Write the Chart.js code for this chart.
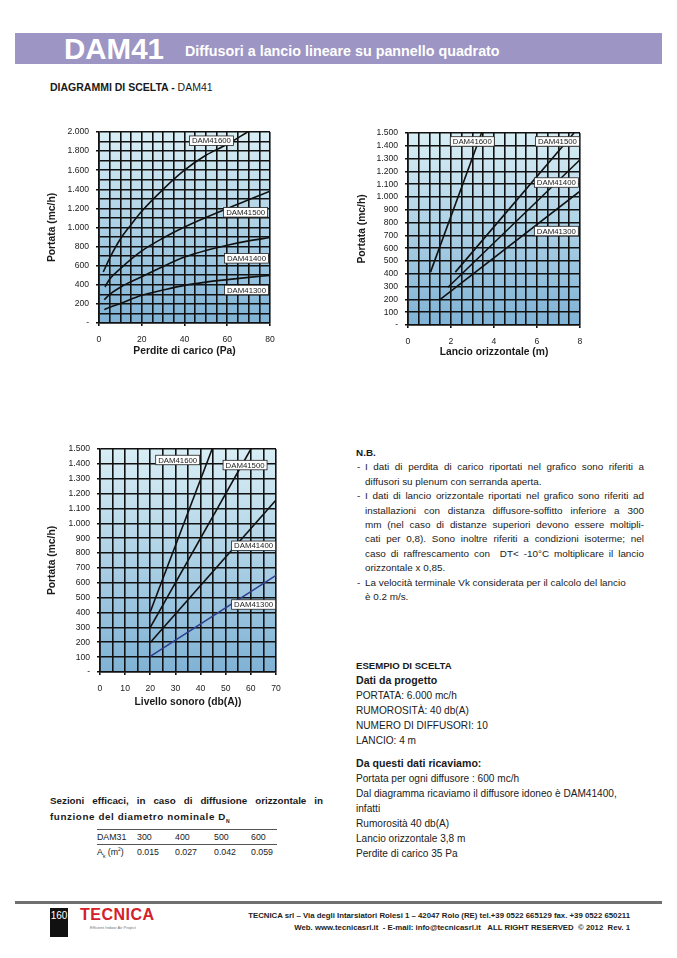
<!DOCTYPE html>
<html>
<head>
<meta charset="utf-8">
<script src="https://cdn.jsdelivr.net/npm/chart.js@4.4.1/dist/chart.umd.min.js"></script>
<style>
  body { margin: 0; background: #fff; font-family: "Liberation Sans", Arial, sans-serif; color: #1a1a1a; }
  #page { position: relative; width: 677px; height: 958px; overflow: hidden; }
  .abs { position: absolute; }
  canvas { position: absolute; }
  .nb div, .es div { white-space: nowrap; }
  .j { text-align: justify; text-align-last: justify; white-space: normal !important; }
  .ind { padding-left: 9px; }
  .dash { position: absolute; left: 1px; }
  table { border-collapse: collapse; font-size: 8.8px; }
  td { padding: 0; height: 14px; }
</style>
</head>
<body>
<div id="page">
  <div class="abs" style="left:15px;top:33px;width:647px;height:31px;background:#9d95c3;"></div>
  <div class="abs" style="left:64px;top:33px;line-height:31px;font-size:29.5px;font-weight:bold;color:#fff;">DAM41</div>
  <div class="abs" style="left:185px;top:36px;line-height:31px;font-size:14.3px;font-weight:bold;color:#fff;">Diffusori a lancio lineare su pannello quadrato</div>
  <div class="abs" style="left:50px;top:81px;font-size:10.5px;"><b>DIAGRAMMI DI SCELTA -</b> DAM41</div>

  <canvas id="c1" width="240" height="240" style="left:40px;top:120px;width:240px;height:240px;"></canvas>
  <canvas id="c2" width="240" height="240" style="left:350px;top:121px;width:240px;height:240px;"></canvas>
  <canvas id="c3" width="246" height="273" style="left:40px;top:437px;width:246px;height:273px;"></canvas>

  <div class="abs nb" style="left:356px;top:446px;width:288px;font-size:9.9px;line-height:14.4px;">
    <div><b>N.B.</b></div>
    <div class="j ind" style="position:relative;"><span class="dash">-</span>I dati di perdita di carico riportati nel grafico sono riferiti a</div>
    <div class="ind">diffusori su plenum con serranda aperta.</div>
    <div class="j ind" style="position:relative;"><span class="dash">-</span>I dati di lancio orizzontale riportati nel grafico sono riferiti ad</div>
    <div class="j ind">installazioni con distanza diffusore-soffitto inferiore a 300</div>
    <div class="j ind">mm (nel caso di distanze superiori devono essere moltipli-</div>
    <div class="j ind">cati per 0,8). Sono inoltre riferiti a condizioni isoterme; nel</div>
    <div class="j ind">caso di raffrescamento con &nbsp;DT&lt; -10°C moltiplicare il lancio</div>
    <div class="ind">orizzontale x 0,85.</div>
    <div class="ind" style="position:relative;"><span class="dash">-</span>La velocità terminale Vk considerata per il calcolo del lancio</div>
    <div class="ind">è 0.2 m/s.</div>
  </div>

  <div class="abs es" style="left:356px;top:658px;font-size:10.1px;line-height:15px;">
    <div style="font-size:9.6px;"><b>ESEMPIO DI SCELTA</b></div>
    <div style="font-size:10.6px;"><b>Dati da progetto</b></div>
    <div>PORTATA: 6.000 mc/h</div>
    <div>RUMOROSITÀ: 40 db(A)</div>
    <div>NUMERO DI DIFFUSORI: 10</div>
    <div>LANCIO: 4 m</div>
    <div style="margin-top:8px;font-size:10.6px;"><b>Da questi dati ricaviamo:</b></div>
    <div>Portata per ogni diffusore : 600 mc/h</div>
    <div>Dal diagramma ricaviamo il diffusore idoneo è DAM41400,</div>
    <div>infatti</div>
    <div>Rumorosità 40 db(A)</div>
    <div>Lancio orizzontale 3,8 m</div>
    <div>Perdite di carico 35 Pa</div>
  </div>

  <div class="abs" style="left:50px;top:793px;width:273px;font-size:9.8px;line-height:16px;font-weight:bold;">
    <div class="j">Sezioni efficaci, in caso di diffusione orizzontale in</div>
    <div style="letter-spacing:0.6px;">funzione del diametro nominale D<sub style="font-size:5px;letter-spacing:0;">N</sub></div>
  </div>

  <div class="abs" style="left:97px;top:829px;width:180px;">
    <table style="width:180px;">
      <tr style="border-top:1px solid #555;border-bottom:1px solid #555;">
        <td style="width:40px;">DAM31</td><td style="width:38px;">300</td><td style="width:39px;">400</td><td style="width:37px;">500</td><td>600</td>
      </tr>
      <tr>
        <td>A<sub style="font-size:5px;">k</sub> (m<sup style="font-size:5px;">2</sup>)</td><td>0.015</td><td>0.027</td><td>0.042</td><td>0.059</td>
      </tr>
    </table>
  </div>

  <div class="abs" style="left:15px;top:901px;width:647px;height:3px;background:#707070;"></div>
  <div class="abs" style="left:50px;top:908px;width:18px;height:29px;background:#111;color:#fff;font-size:10px;line-height:16px;text-align:center;">160</div>
  <div class="abs" style="left:80px;top:906px;font-size:16px;font-weight:bold;color:#d3202a;letter-spacing:0.5px;">TECNICA</div>
  <div class="abs" style="left:90px;top:925px;font-size:4px;color:#777;">Efficient Indoor Air Project</div>
  <div class="abs" style="right:47px;top:910px;font-size:7.8px;line-height:12px;text-align:right;font-weight:bold;color:#222;">
    <div>TECNICA srl – Via degli Intarsiatori Rolesi 1 – 42047 Rolo (RE) tel.+39 0522 665129 fax. +39 0522 650211</div>
    <div>Web. www.tecnicasrl.it &nbsp;- E-mail: info@tecnicasrl.it &nbsp;&nbsp;ALL RIGHT RESERVED &nbsp;© 2012 &nbsp;Rev. 1</div>
  </div>
</div>

<script>
// series names
const models = ['DAM41300', 'DAM41400', 'DAM41500', 'DAM41600'];

// Perdite di carico (Pa) -> Portata (mc/h)
const perdite1300 = [[2.5,140],[5,165],[10,205],[20,290],[30,345],[40,394],[50,428],[60,454],[70,478],[80,499]];
const perdite1400 = [[2.5,244],[5,300],[10,375],[20,485],[30,592],[40,690],[50,760],[60,815],[70,860],[80,895]];
const perdite1500 = [[2.8,377],[5,460],[10,570],[20,755],[30,890],[40,1005],[50,1105],[60,1200],[70,1290],[80,1380]];
const perdite1600 = [[2,534],[5,680],[10,880],[15,1030],[20,1170],[30,1400],[40,1600],[50,1756],[60,1871],[69.5,2000]];

// Lancio orizzontale (m) -> Portata (mc/h)
const lancio1300 = [[1.5,201],[8,1045]];
const lancio1400 = [[1.86,295],[8,1291]];
const lancio1500 = [[2.2,413],[7.72,1500]];
const lancio1600 = [[1.05,415],[3.42,1500]];

// Livello sonoro (db(A)) -> Portata (mc/h)
const sonoro1300 = [[20,105],[70,650]];
const sonoro1400 = [[20,198],[70,1157]];
const sonoro1500 = [[20,300],[60,1500]];
const sonoro1600 = [[20,405],[44.6,1500]];

// label anchors (data units), same order as models
const perditeLabels = [[69,346],[69,677],[68.6,1159],[52.6,1909]];
const lancioLabels = [[6.9,734],[6.9,1113],[6.95,1434],[2.99,1434]];
const sonoroLabels = [[61.1,454],[61.1,849],[57.7,1392],[30.9,1426]];

const FONT = '"Liberation Sans", Arial, sans-serif';

function fmt(v) {
  if (v === 0) return '-';
  return String(v).replace(/\B(?=(\d{3})+(?!\d))/g, '.');
}

const bgPlugin = {
  id: 'bg',
  beforeDraw(chart) {
    const {ctx, chartArea: a} = chart;
    const g = ctx.createLinearGradient(0, a.top, 0, a.bottom);
    g.addColorStop(0, '#d9eef5');
    g.addColorStop(1, '#7fb2d5');
    ctx.save();
    ctx.fillStyle = g;
    ctx.fillRect(a.left, a.top, a.right - a.left, a.bottom - a.top);
    ctx.restore();
  }
};

const tagPlugin = {
  id: 'tags',
  afterDatasetsDraw(chart, args, opts) {
    const ctx = chart.ctx;
    const xs = chart.scales.x, ys = chart.scales.y;
    ctx.save();
    ctx.font = '7.8px ' + FONT;
    ctx.textAlign = 'center';
    ctx.textBaseline = 'middle';
    opts.at.forEach(function(p, i) {
      const cx = xs.getPixelForValue(p[0]);
      const cy = ys.getPixelForValue(p[1]);
      const w = 44, h = 9.5;
      ctx.fillStyle = '#fff';
      ctx.fillRect(cx - w / 2, cy - h / 2, w, h);
      ctx.strokeStyle = '#222';
      ctx.lineWidth = 0.8;
      ctx.strokeRect(cx - w / 2, cy - h / 2, w, h);
      ctx.fillStyle = '#222';
      ctx.fillText(models[i], cx, cy + 0.5);
    });
    ctx.restore();
  }
};

function makeChart(id, sets, colors, xcfg, ycfg, tags, smooth) {
  const datasets = sets.map(function(s, i) {
    return {
      label: models[i],
      data: s.map(function(p) { return {x: p[0], y: p[1]}; }),
      borderColor: colors[i],
      borderWidth: 1.6,
      pointRadius: 0,
      fill: false,
      cubicInterpolationMode: smooth ? 'monotone' : 'default',
      tension: 0
    };
  });
  const tickFont = {family: FONT, size: 8.6};
  const titleFont = {family: FONT, size: 10.3, weight: 'bold'};
  return new Chart(document.getElementById(id), {
    type: 'line',
    data: {datasets: datasets},
    plugins: [bgPlugin, tagPlugin],
    options: {
      responsive: false,
      animation: false,
      events: [],
      layout: {padding: {top: 12, right: 10, left: 0, bottom: 0}},
      plugins: {legend: {display: false}, tooltip: {enabled: false}, tags: {at: tags}},
      scales: {
        x: {
          type: 'linear', min: xcfg.min, max: xcfg.max,
          afterFit: function(s) { s.height = xcfg.h; s.paddingLeft = 0; s.paddingRight = 0; },
          ticks: {stepSize: xcfg.step, autoSkip: false, maxRotation: 0, padding: 8, color: '#1a1a1a', font: tickFont,
            callback: function(v) { return xcfg.show(v) ? String(v) : ''; }},
          grid: {color: '#111', lineWidth: 1.6, tickLength: 3,
            tickColor: function(c) { return c.tick && xcfg.show(c.tick.value) ? '#111' : 'rgba(0,0,0,0)'; }},
          border: {color: '#111', width: 1.6},
          title: {display: true, text: xcfg.title, color: '#1a1a1a', font: titleFont, padding: {top: 0, bottom: xcfg.tpad}}
        },
        y: {
          type: 'linear', min: ycfg.min, max: ycfg.max,
          afterFit: function(s) { s.width = ycfg.w; s.paddingTop = 0; s.paddingBottom = 0; },
          ticks: {stepSize: ycfg.step, autoSkip: false, padding: 7, color: '#1a1a1a', font: tickFont,
            callback: function(v) { return ycfg.show(v) ? fmt(v) : ''; }},
          grid: {color: '#111', lineWidth: 1.6, tickLength: 3,
            tickColor: function(c) { return c.tick && ycfg.show(c.tick.value) ? '#111' : 'rgba(0,0,0,0)'; }},
          border: {color: '#111', width: 1.6},
          title: {display: true, text: 'Portata (mc/h)', color: '#1a1a1a', font: titleFont, padding: {top: 6, bottom: 0}}
        }
      }
    }
  });
}

const black = ['#111', '#111', '#111', '#111'];

makeChart('c1', [perdite1300, perdite1400, perdite1500, perdite1600], black,
  {min: 0, max: 80, step: 5, h: 37, tpad: 3, title: 'Perdite di carico (Pa)', show: function(v) { return v % 20 === 0; }},
  {min: 0, max: 2000, step: 100, w: 59, show: function(v) { return v % 200 === 0; }},
  perditeLabels, true);

makeChart('c2', [lancio1300, lancio1400, lancio1500, lancio1600], black,
  {min: 0, max: 8, step: 0.5, h: 36, tpad: 3, title: 'Lancio orizzontale (m)', show: function(v) { return v % 2 === 0; }},
  {min: 0, max: 1500, step: 100, w: 58, show: function(v) { return true; }},
  lancioLabels, false);

makeChart('c3', [sonoro1300, sonoro1400, sonoro1500, sonoro1600], ['#2e3f8f', '#111', '#111', '#111'],
  {min: 0, max: 70, step: 5, h: 38, tpad: 2, title: 'Livello sonoro (db(A))', show: function(v) { return v % 10 === 0; }},
  {min: 0, max: 1500, step: 100, w: 60, show: function(v) { return true; }},
  sonoroLabels, false);
</script>
</body>
</html>
